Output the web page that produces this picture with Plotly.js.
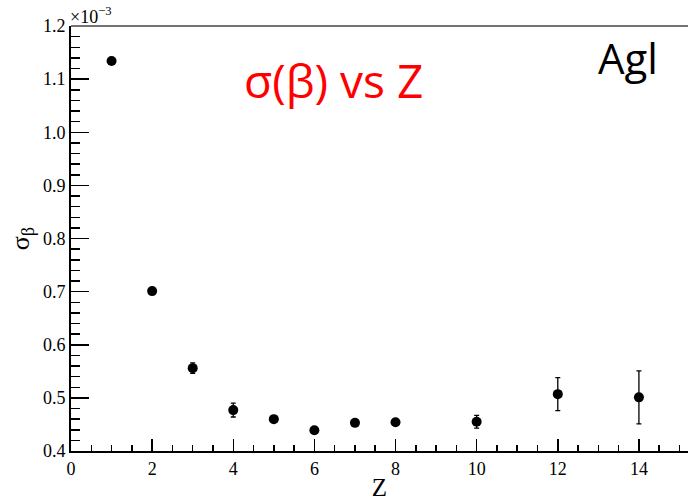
<!DOCTYPE html>
<html>
<head>
<meta charset="utf-8">
<script src="https://cdn.plot.ly/plotly-3.0.1.min.js"></script>
<style>html,body{margin:0;padding:0;background:#fff;}#chart{width:688px;height:501px;}</style>
</head>
<body>
<div id="chart"></div>
<script>
// Charge Z
var zValues = [1, 2, 3, 4, 5, 6, 7, 8, 10, 12, 14];
// sigma(beta), in units of 1e-3
var sigmaBeta = [1.134, 0.701, 0.556, 0.477, 0.460, 0.439, 0.453, 0.454, 0.455, 0.507, 0.501];
// error on sigma(beta), in units of 1e-3
var sigmaErr = [0.002, 0.002, 0.010, 0.013, 0.003, 0.002, 0.003, 0.003, 0.012, 0.031, 0.050];
var yTickVals = [0.4, 0.5, 0.6, 0.7, 0.8, 0.9, 1.0, 1.1, 1.2];
var yTickText = ["0.4", "0.5", "0.6", "0.7", "0.8", "0.9", "1.0", "1.1", "1.2"];
var xTickVals = [0, 2, 4, 6, 8, 10, 12, 14];
var xTickText = ["0", "2", "4", "6", "8", "10", "12", "14"];

var serif = "Liberation Serif, Times New Roman, serif";

var trace = {
  x: zValues,
  y: sigmaBeta,
  type: 'scatter',
  mode: 'markers',
  marker: {color: 'black', size: 10},
  error_y: {type: 'data', array: sigmaErr, visible: true, color: 'black', thickness: 1.3, width: 2.5},
  showlegend: false,
  hoverinfo: 'x+y'
};

var layout = {
  width: 688,
  height: 501,
  margin: {l: 71, r: 0, t: 26, b: 50, pad: 0},
  paper_bgcolor: 'white',
  plot_bgcolor: 'white',
  font: {family: serif, color: 'black', size: 17},
  xaxis: {
    range: [0, 15.21],
    tickvals: xTickVals,
    ticktext: xTickText,
    ticks: 'inside',
    ticklen: 12,
    tickwidth: 1.5,
    tickcolor: 'black',
    showgrid: false,
    zeroline: false,
    showline: true,
    linecolor: 'black',
    linewidth: 2,
    tickfont: {family: serif, size: 18, color: 'black'},
    minor: {dtick: 0.5, tick0: 0, ticks: 'inside', ticklen: 6, tickwidth: 1.5, tickcolor: 'black', showgrid: false},
    title: {text: 'Z', font: {family: serif, size: 25, color: 'black'}, standoff: 9}
  },
  yaxis: {
    range: [0.4, 1.2],
    tickvals: yTickVals,
    ticktext: yTickText,
    ticks: 'inside',
    ticklen: 18,
    tickwidth: 1.5,
    tickcolor: 'black',
    showgrid: false,
    zeroline: false,
    showline: true,
    linecolor: 'black',
    linewidth: 2,
    tickfont: {family: serif, size: 18, color: 'black'},
    minor: {dtick: 0.02, tick0: 0.4, ticks: 'inside', ticklen: 9, tickwidth: 1.5, tickcolor: 'black', showgrid: false},
    title: {text: 'σ<sub>β</sub>', font: {family: serif, size: 26, color: 'black'}, standoff: 6}
  },
  shapes: [
    {type: 'line', xref: 'paper', yref: 'paper', x0: 0, x1: 1, y0: 1, y1: 1, line: {color: '#444', width: 1.5}}
  ],
  annotations: [
    {xref: 'paper', yref: 'paper', x: 0.426, y: 0.873, xanchor: 'center', yanchor: 'middle', showarrow: false,
     text: 'σ(β) vs Z', font: {family: 'Open Sans, sans-serif', size: 46, color: '#ff0000'}},
    {xref: 'paper', yref: 'paper', x: 0.902, y: 0.925, xanchor: 'center', yanchor: 'middle', showarrow: false,
     text: 'Agl', font: {family: 'Open Sans, sans-serif', size: 42, color: 'black'}},
    {xref: 'paper', yref: 'paper', x: 0, y: 1.0, xanchor: 'left', yanchor: 'bottom', showarrow: false,
     text: '×10<sup>−3</sup>', font: {family: serif, size: 18, color: 'black'}, xshift: -3, yshift: -3}
  ]
};

Plotly.newPlot('chart', [trace], layout, {displayModeBar: false, staticPlot: true});
</script>
</body>
</html>
